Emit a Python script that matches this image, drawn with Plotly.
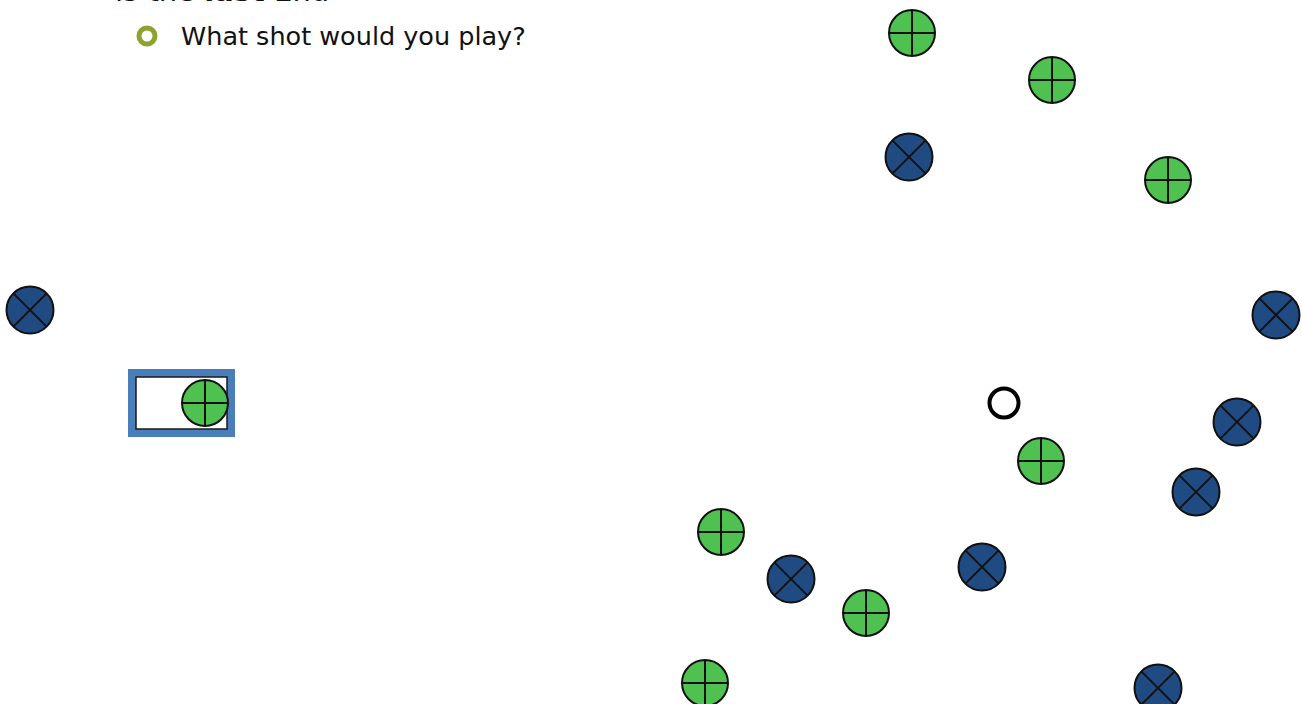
import plotly.graph_objects as go

# Bowls positions (pixel-space coordinates of the diagram)
green_x = [912, 1052, 1168, 205, 1041, 721, 866, 705]
green_y = [33, 80, 180, 403, 461, 532, 613, 683]
blue_x = [909, 30, 1276, 1237, 1196, 791, 982, 1158]
blue_y = [157, 310, 315, 422, 492, 579, 567, 688]
jack_x = [1004]
jack_y = [403]

W, H = 1302, 704

fig = go.Figure()

# highlighted box around the bowl at left
fig.add_shape(type="rect", x0=132, y0=373, x1=231, y1=433,
              line=dict(color="#4a7ebb", width=8), fillcolor="white", layer="below")
fig.add_shape(type="rect", x0=136, y0=377, x1=227, y1=429,
              line=dict(color="#1a1a1a", width=1.5), fillcolor="rgba(0,0,0,0)", layer="below")

fig.add_trace(go.Scatter(x=green_x, y=green_y, mode="markers",
                         marker=dict(symbol="circle-cross", size=46, color="#4fc150",
                                     line=dict(color="#111111", width=2)),
                         cliponaxis=False, hoverinfo="skip"))
fig.add_trace(go.Scatter(x=blue_x, y=blue_y, mode="markers",
                         marker=dict(symbol="circle-x", size=47, color="#1f4b82",
                                     line=dict(color="#111111", width=2)),
                         cliponaxis=False, hoverinfo="skip"))
fig.add_trace(go.Scatter(x=jack_x, y=jack_y, mode="markers",
                         marker=dict(symbol="circle-open", size=29, color="#000000",
                                     line=dict(color="#000000", width=4)),
                         cliponaxis=False, hoverinfo="skip"))

# bullet ring
fig.add_trace(go.Scatter(x=[147], y=[36], mode="markers",
                         marker=dict(symbol="circle-open", size=16, color="#8ea22f",
                                     line=dict(color="#8ea22f", width=5)),
                         cliponaxis=False, hoverinfo="skip"))

fig.add_annotation(x=179, y=36, xref="x", yref="y", xanchor="left", yanchor="middle",
                   text="What shot would you play?", showarrow=False,
                   font=dict(family="DejaVu Sans", size=25.5, color="#111111"))
fig.add_annotation(x=113 / W, y=1 + 9 / H, xref="paper", yref="paper",
                   xanchor="left", yanchor="middle",
                   text="is the <b>last</b> End", showarrow=False,
                   font=dict(family="DejaVu Sans", size=29, color="#111111"))

fig.update_xaxes(range=[0, W], visible=False, fixedrange=True)
fig.update_yaxes(range=[H, 0], visible=False, fixedrange=True)
fig.update_layout(width=W, height=H, margin=dict(l=0, r=0, t=0, b=0),
                  paper_bgcolor="white", plot_bgcolor="white", showlegend=False)

fig.write_html("out.html", config={"displayModeBar": False},
               post_script="document.body.style.margin='0';document.body.style.overflow='hidden';")
